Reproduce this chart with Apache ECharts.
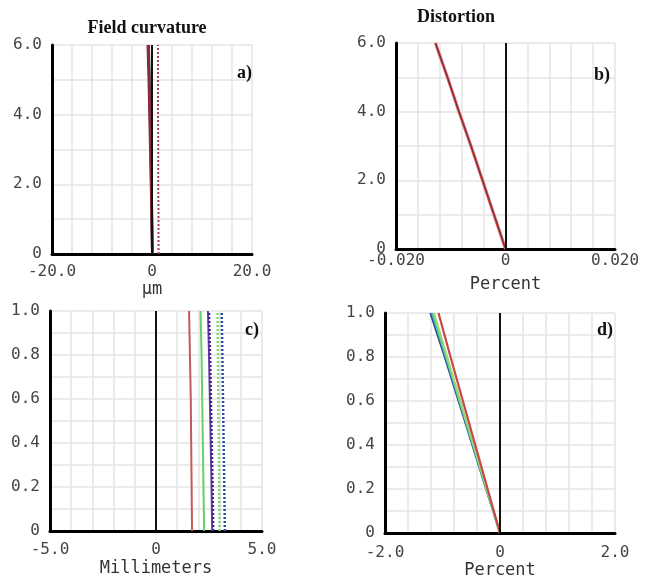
<!DOCTYPE html>
<html>
<head>
<meta charset="utf-8">
<script src="https://cdn.jsdelivr.net/npm/echarts@6/dist/echarts.min.js"></script>
<style>
  html, body { margin: 0; padding: 0; background: #fff; }
  #chart { width: 646px; height: 580px; }
</style>
</head>
<body>
<div id="chart"></div>
<script>
// a) field curvature, micrometres vs field
const aFieldY = [0, 1, 2, 3, 4, 5, 6];
const aTanRed = [0.1, -0.05, -0.15, -0.3, -0.45, -0.6, -0.8];
const aTanGreen = [0.1, 0, -0.1, -0.2, -0.35, -0.5, -0.65];
const aTanBlue = [0.05, -0.05, -0.15, -0.25, -0.4, -0.55, -0.7];
const aSagDotted = [1.3, 1.3, 1.25, 1.25, 1.2, 1.2, 1.2];

// b) distortion, percent vs field
const bFieldY = [0, 1, 2, 3, 4, 5, 6];
const bDistX = [0, -0.0021, -0.0042, -0.0063, -0.0085, -0.0106, -0.0128];

// c) field curvature, millimetres vs relative field
const cFieldY = [0, 0.2, 0.4, 0.6, 0.8, 1.0];
const cRed = [1.7, 1.68, 1.66, 1.64, 1.6, 1.56];
const cGreen = [2.27, 2.24, 2.21, 2.18, 2.15, 2.1];
const cPurple = [2.65, 2.62, 2.58, 2.54, 2.5, 2.45];
const cPurpleDot = [2.7, 2.67, 2.63, 2.59, 2.55, 2.5];
const cGreenDot = [3.0, 2.98, 2.96, 2.94, 2.92, 2.9];
const cBlueDot = [3.25, 3.22, 3.19, 3.16, 3.13, 3.1];

// d) distortion, percent vs relative field
const dFieldY = [0, 0.2, 0.4, 0.6, 0.8, 1.0];
const dBlue = [0, -0.24, -0.48, -0.72, -0.96, -1.21];
const dTeal = [0, -0.235, -0.47, -0.705, -0.94, -1.18];
const dGreen = [0, -0.23, -0.46, -0.69, -0.92, -1.15];
const dRed = [0, -0.215, -0.43, -0.645, -0.86, -1.07];

const tickFont = "'DejaVu Sans Mono', monospace";
const serif = "'Liberation Serif', 'Times New Roman', serif";

function pairs(xs, ys) {
  return xs.map((x, i) => [x, ys[i]]);
}

function xAx(idx, min, max, interval, fmt, name, margin, nameGap) {
  return {
    type: "value", gridIndex: idx, min: min, max: max, interval: interval,
    name: name, nameLocation: "middle", nameGap: nameGap,
    nameTextStyle: { fontFamily: tickFont, fontSize: 17, color: "#333" },
    axisLine: { onZero: false, lineStyle: { color: "#000", width: 3 } },
    axisTick: { show: false },
    axisLabel: { formatter: fmt, margin: margin, fontFamily: tickFont, fontSize: 16, color: "#444", showMinLabel: true, showMaxLabel: true },
    splitLine: { show: true, lineStyle: { color: "#e4e4e4", width: 1.5 } },
  };
}

function yAx(idx, min, max, interval, fmt) {
  return {
    type: "value", gridIndex: idx, min: min, max: max, interval: interval,
    axisLine: { show: true, onZero: false, lineStyle: { color: "#000", width: 3 } },
    axisTick: { show: false },
    axisLabel: { formatter: fmt, margin: 10, fontFamily: tickFont, fontSize: 16, color: "#444", showMinLabel: true, showMaxLabel: true },
    splitLine: { show: true, lineStyle: { color: "#e4e4e4", width: 1.5 } },
  };
}

function line(idx, data, color, width, type) {
  return {
    type: "line", xAxisIndex: idx, yAxisIndex: idx, data: data,
    showSymbol: false, silent: true,
    lineStyle: { color: color, width: width, type: type || "solid" },
    z: 3,
  };
}

// black vertical line at x = 0 for each panel
function zeroLine(idx) {
  return {
    type: "line", xAxisIndex: idx, yAxisIndex: idx, data: [],
    markLine: {
      silent: true, symbol: "none", label: { show: false },
      lineStyle: { color: "#111", width: 2, type: "solid" },
      data: [{ xAxis: 0 }],
    },
    z: 2,
  };
}

const fmtA = v => (v === 0 ? "0" : Math.abs(v) === 20 ? v.toFixed(1) : "");
const fmtB = v => (Math.abs(v) < 1e-9 ? "0" : Math.abs(v) > 0.0199 ? (v < 0 ? "-0.020" : "0.020") : "");
const fmtC = v => (Math.abs(v) < 1e-9 ? "0" : Math.abs(v) > 4.99 ? v.toFixed(1) : "");
const fmtD = v => (Math.abs(v) < 1e-9 ? "0" : Math.abs(v) > 1.99 ? v.toFixed(1) : "");
const fmtY6 = v => (v === 0 ? "0" : v % 2 === 0 ? v.toFixed(1) : "");
const fmtY1 = v => {
  const k = Math.round(v * 10);
  if (k === 0) return "0";
  return k % 2 === 0 ? (k / 10).toFixed(1) : "";
};

const chart = echarts.init(document.getElementById("chart"));
chart.setOption({
  animation: false,
  backgroundColor: "#fff",
  title: [
    { text: "Field curvature", left: 142, top: 14, textAlign: "center", textStyle: { fontFamily: serif, fontWeight: "bold", fontSize: 18, color: "#111" } },
    { text: "Distortion", left: 451, top: 3, textAlign: "center", textStyle: { fontFamily: serif, fontWeight: "bold", fontSize: 18, color: "#111" } },
    { text: "a)", left: 232, top: 59, textStyle: { fontFamily: serif, fontWeight: "bold", fontSize: 18, color: "#111" } },
    { text: "b)", left: 589, top: 61, textStyle: { fontFamily: serif, fontWeight: "bold", fontSize: 18, color: "#111" } },
    { text: "c)", left: 240, top: 316, textStyle: { fontFamily: serif, fontWeight: "bold", fontSize: 18, color: "#111" } },
    { text: "d)", left: 592, top: 316, textStyle: { fontFamily: serif, fontWeight: "bold", fontSize: 18, color: "#111" } },
  ],
  grid: [
    { left: 52, top: 45, width: 200, height: 209 },
    { left: 396, top: 43, width: 219, height: 206 },
    { left: 50, top: 311, width: 212, height: 220 },
    { left: 385, top: 313, width: 230, height: 220 },
  ],
  xAxis: [
    xAx(0, -20, 20, 4, fmtA, "µm", 10, 24),
    xAx(1, -0.02, 0.02, 0.004, fmtB, "Percent", 4, 27),
    xAx(2, -5, 5, 1, fmtC, "Millimeters", 11, 29),
    xAx(3, -2, 2, 0.4, fmtD, "Percent", 12, 29),
  ],
  yAxis: [
    yAx(0, 0, 6, 1, fmtY6),
    yAx(1, 0, 6, 1, fmtY6),
    yAx(2, 0, 1, 0.1, fmtY1),
    yAx(3, 0, 1, 0.1, fmtY1),
  ],
  series: [
    zeroLine(0), zeroLine(1), zeroLine(2), zeroLine(3),
    // a
    line(0, pairs(aTanGreen, aFieldY), "#3f8f4f", 2.5),
    line(0, pairs(aTanBlue, aFieldY), "#2a3f7f", 2.5),
    line(0, pairs(aTanRed, aFieldY), "#8a2a3a", 3),
    line(0, pairs(aSagDotted, aFieldY), "#b04050", 2, [2, 2]),
    // b
    line(1, pairs(bDistX, bFieldY), "#d85a5a", 3),
    line(1, pairs(bDistX, bFieldY), "#5a2a40", 1),
    // c
    line(2, pairs(cRed, cFieldY), "#c25a5a", 2),
    line(2, pairs(cGreen, cFieldY), "#66d066", 2),
    line(2, pairs(cPurple, cFieldY), "#6a3aa8", 2),
    line(2, pairs(cPurpleDot, cFieldY), "#3a2a80", 2.5, [2, 2]),
    line(2, pairs(cGreenDot, cFieldY), "#7fd47f", 2.5, [2, 2]),
    line(2, pairs(cBlueDot, cFieldY), "#2a4a9a", 2.5, [2, 2]),
    // d
    line(3, pairs(dBlue, dFieldY), "#2c4a9c", 2.2),
    line(3, pairs(dTeal, dFieldY), "#4cc0a8", 2.2),
    line(3, pairs(dGreen, dFieldY), "#9ad870", 2.2),
    line(3, pairs(dRed, dFieldY), "#c84848", 2.2),
  ],
});
</script>
</body>
</html>
